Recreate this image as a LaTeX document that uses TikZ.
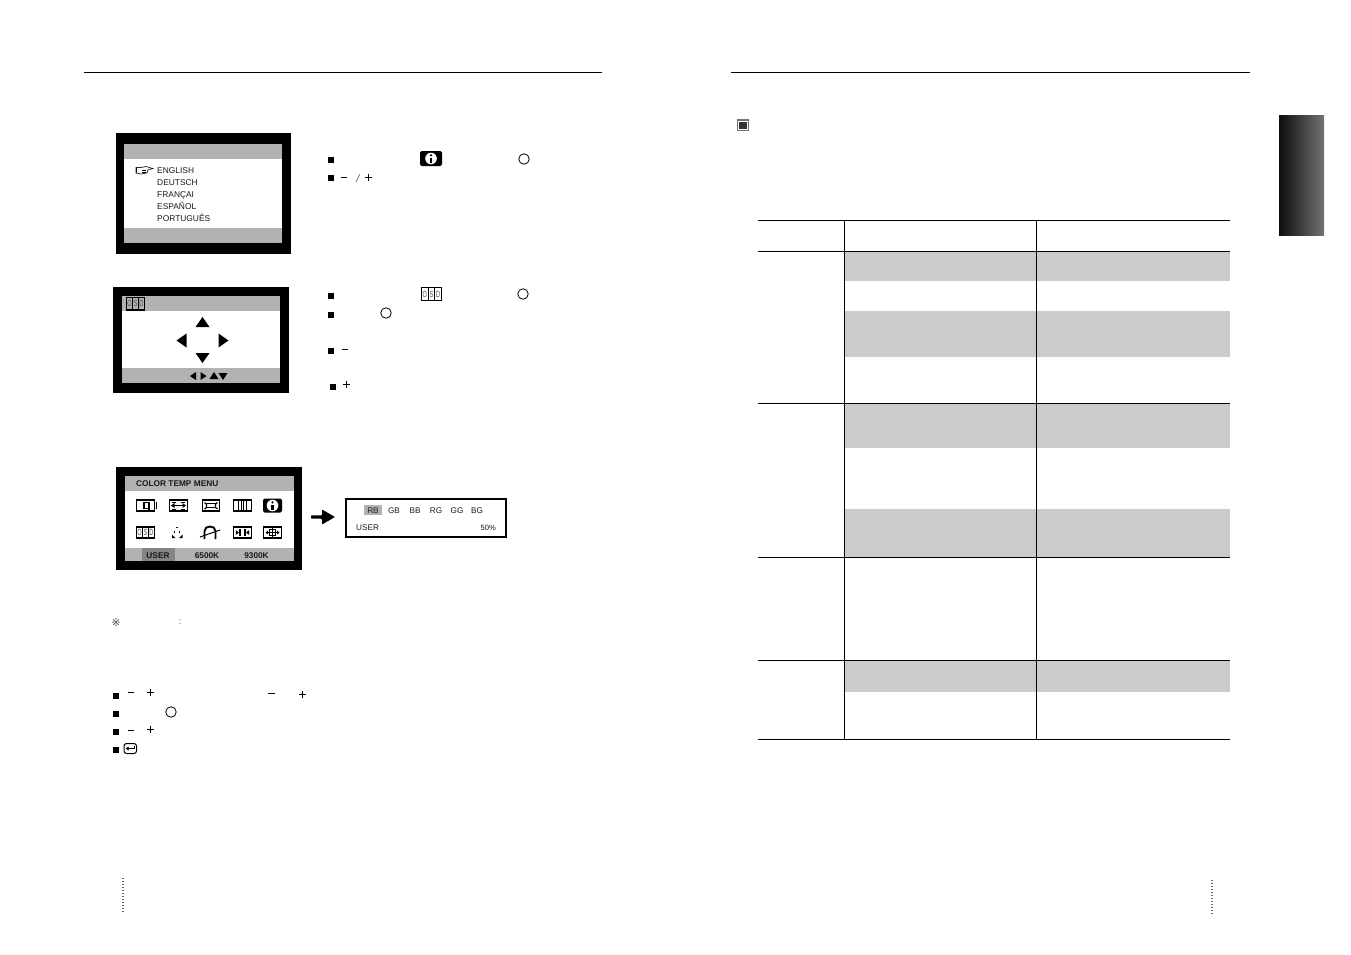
\documentclass[tikz,border=0pt]{standalone}
\usepackage{fontspec}
\setmainfont{Liberation Sans}
\definecolor{bandgray}{HTML}{CBCBCB}
\definecolor{osdgray}{HTML}{B2B2B2}
\definecolor{seldark}{HTML}{858585}
\newcommand{\infoicon}[4]{% cx cy w h
  \fill[black,rounded corners=1.6] (#1-#3/2,#2-#4/2) rectangle (#1+#3/2,#2+#4/2);
  \fill[white] (#1,#2) circle[radius=5.8];
  \fill[black] (#1,#2-3.2) circle[radius=1.2];
  \fill[black] (#1-1.2,#2-1) rectangle (#1+1.2,#2+4);
}
\newcommand{\osdicon}[4]{% x0 y0 x1 y1
  \draw[line width=1.2] (#1,#2) rectangle (#3,#4);
  \draw[line width=.9] ({#1+(#3-#1)/3},#2) -- ({#1+(#3-#1)/3},#4) ({#1+2*(#3-#1)/3},#2) -- ({#1+2*(#3-#1)/3},#4);
  \node[osdtxt] at ({#1+(#3-#1)/6},{(#2+#4)/2}) {O};
  \node[osdtxt] at ({#1+(#3-#1)/2},{(#2+#4)/2}) {S};
  \node[osdtxt] at ({#1+5*(#3-#1)/6},{(#2+#4)/2}) {D};
}
\tikzset{
  x=1pt,y=-1pt,
  rule/.style={line width=1pt,black},
  tablerule/.style={line width=.8pt,black},
  band/.style={fill=bandgray},
  frame/.style={fill=black},
  osdbar/.style={fill=osdgray},
  screentxt/.style={font=\fontsize{8.4}{9}\selectfont,anchor=base west,inner sep=0pt,text=black!90},
  boldtxt/.style={font=\fontsize{8.3}{9}\selectfont\bfseries,inner sep=0pt,text=black!90},
  cfgtxt/.style={font=\fontsize{8.2}{9}\selectfont,inner sep=0pt,text=black!90},
  osdtxt/.style={font=\fontsize{9}{9}\selectfont,inner sep=0pt,text=black!70,xscale=.62},
  bullet/.style={fill=black,minimum size=5.4pt,inner sep=0pt,draw=none,rectangle},
  keycircle/.style={draw=black,line width=.8pt,circle,minimum size=10.5pt,inner sep=0pt},
  keymark/.style={line width=.9pt,black},
  dotline/.style={line width=1.2pt,dash pattern=on 1pt off 2pt,black!60},
  icon/.style={line width=1.1pt,black},
}
\newcommand{\minusat}[2]{\draw[keymark] (#1-3.2,#2) -- (#1+3.2,#2);}
\newcommand{\plusat}[2]{\draw[keymark] (#1-3.5,#2) -- (#1+3.5,#2) (#1,#2-3.5) -- (#1,#2+3.5);}
\newcommand{\tri}[3]{\fill[black] #1 -- #2 -- #3 -- cycle;}
\begin{document}
\begin{tikzpicture}
\useasboundingbox[fill=white] (0,0) rectangle (1351,954);
% header rules
\draw[rule] (84,72) -- (602,72);
\draw[rule] (731,72) -- (1250,72);
% footer dotted
\draw[dotline] (123,878) -- (123,912);
\draw[dotline] (1212,880) -- (1212,914);

% Screen 1
\fill[frame] (116,133) rectangle (291,254);
\fill[white] (124,144) rectangle (282,243);
\fill[osdbar] (124,144) rectangle (282,159);
\fill[osdbar] (124,228) rectangle (282,243);
\node[screentxt] (l1) at (157,173.5) {ENGLISH};
\node[screentxt] (l2) at (157,185.5) {DEUTSCH};
\node[screentxt] (l3) at (157,197.5) {FRANÇAI};
\node[screentxt] (l4) at (157,209.5) {ESPAÑOL};
\node[screentxt] (l5) at (157,221.5) {PORTUGUÊS};
% hand pointer
\draw[line width=.7pt,black!85,fill=white] (136,167.5) -- (141,167.5) -- (146,166.5) -- (153,168.6) -- (148,169.8) -- (147,173) -- (141,174) -- (136,173) -- cycle;
\fill[black] (135.5,167.5) rectangle (137,173);
\draw[line width=.5pt] (142,170) -- (146,170) (142,172) -- (145.5,172);

% Screen 2
\fill[frame] (113,287) rectangle (288.5,393);
\fill[white] (122,296) rectangle (280,383);
\fill[osdbar] (122,296) rectangle (280,311);
\fill[osdbar] (122,368) rectangle (280,383);
\osdicon{126.5}{297.5}{144.5}{310}
\tri{(202.5,317)}{(195.5,327)}{(209.5,327)}
\tri{(176.5,340.5)}{(186.5,333.5)}{(186.5,347.5)}
\tri{(228.5,340.5)}{(218.5,333.5)}{(218.5,347.5)}
\tri{(202.5,363)}{(195.5,353)}{(209.5,353)}
\tri{(190,376)}{(196,372)}{(196,380)}
\tri{(206.5,376)}{(200.5,372)}{(200.5,380)}
\tri{(214,372)}{(209.5,379)}{(218.5,379)}
\tri{(223,380)}{(218.5,373)}{(227.5,373)}

% Screen 3
\fill[frame] (115.5,467) rectangle (302,570);
\fill[white] (125,476) rectangle (294,561);
\fill[osdbar] (125,476) rectangle (294,491);
\fill[osdbar] (125,548) rectangle (294,561);
\fill[seldark] (142,548) rectangle (175,561);
\node[boldtxt,anchor=west] (ctm) at (136,483.5) {COLOR TEMP MENU};
\node[boldtxt] (tu) at (158,555.5) {USER};
\node[boldtxt] (t65) at (207,555.5) {6500K};
\node[boldtxt] (t93) at (256.5,555.5) {9300K};
% row 1 icons
\draw[icon] (136.5,500) rectangle (154.5,511);
\fill (155.5,502) rectangle (157.3,509);
\draw[line width=1.4pt] (149,502) -- (149,509.5) (149,502.5) -- (144,502.5) -- (144,508.5) -- (149,508.5);
\draw[icon] (169.5,500) rectangle (187.5,511);
\draw[line width=.9pt] (173,505.5) -- (184,505.5);
\fill (171,505.5) -- (174.5,503) -- (174.5,508) -- cycle;
\fill (186,505.5) -- (182.5,503) -- (182.5,508) -- cycle;
\draw[line width=.9pt] (172,502) -- (176,502) (181,502) -- (185,502) (172,509) -- (176,509) (181,509) -- (185,509);
\draw[icon] (202.5,500) rectangle (219.5,511);
\draw[line width=1.2pt] (204.5,502.5) -- (206.5,504) -- (206.5,507.5) -- (204.5,509) (217.5,502.5) -- (215.5,504) -- (215.5,507.5) -- (217.5,509);
\draw[line width=.9pt] (206.5,503.5) -- (215.5,503.5) (206.5,507.5) -- (215.5,507.5);
\draw[icon] (233.5,500) rectangle (251.5,511);
\foreach \xx in {238.5,241,243.5,246} {\draw[line width=.9pt] (\xx,500) -- (\xx,511);}
\infoicon{272.5}{505.5}{19}{14}
% row 2 icons
\osdicon{136.5}{527}{154.5}{538}
\foreach \a/\b in {177/527.5,174.5/532,179.5/532} {\fill (\a-.8,\b-.8) rectangle (\a+.8,\b+.8);}
\fill (172,538) -- (172,534.5) -- (175.5,538) -- cycle;
\fill (182.5,538) -- (182.5,534.5) -- (179,538) -- cycle;
\draw[line width=1.9pt] (204.5,539) -- (204.5,531) .. controls (204.5,525) and (215.5,525) .. (215.5,531) -- (215.5,539);
\draw[line width=1pt] (200,537) -- (220,530);
\draw[icon] (233.5,527) rectangle (251.5,538);
\draw[line width=1.2pt] (240,529) -- (240,536) (245,529) -- (245,536);
\fill (239,532.5) -- (235.8,530) -- (235.8,535) -- cycle;
\fill (246,532.5) -- (249.2,530) -- (249.2,535) -- cycle;
\draw[icon] (263.5,527) rectangle (281.5,538);
\draw[line width=.8pt] (266,532.5) -- (279,532.5);
\draw[line width=1pt] (269.5,529.5) rectangle (275.5,535.5);
\draw[line width=1pt] (272.5,527.5) -- (272.5,537.5);
\fill (265.5,532.5) -- (268,530.5) -- (268,534.5) -- cycle;
\fill (279.5,532.5) -- (277,530.5) -- (277,534.5) -- cycle;

% connector arrow
\coordinate (arrowtail) at (311,517);
\node[draw=black,line width=2pt,minimum width=160pt,minimum height=38pt,inner sep=0pt] (userbox) at (425.8,518) {};
\fill[black,rounded corners=.8] (arrowtail) ++(0,-1.7) -- (322,515.3) -- (322,509.5) -- (335,517) -- (322,524.5) -- (322,518.7) -- (311,518.7) -- cycle;
\fill[osdgray] (364,505) rectangle (382,514.5);
\foreach \nm/\xx/\lab in {a/373/RB,b/394/GB,c/415/BB,d/436/RG,e/457/GG,f/477/BG} {\node[cfgtxt] (cfg\nm) at (\xx,510.5) {\lab};}
\node[cfgtxt,anchor=west] (uu) at (356,527.5) {USER};
\node[cfgtxt,anchor=east,font=\fontsize{7.6}{9}\selectfont] (pc) at (496,528) {50\%};

% key marks
\foreach \n/\xx/\yy in {a/331/160,b/331/178,c/331/296,d/331/315,e/331/351,f/333/387,g/116/696,h/116/714,i/116/732,j/116/750}
  {\node[bullet] (bul\n) at (\xx,\yy) {};}
\infoicon{431}{158.5}{22}{15}
\node[keycircle] (k1) at (524,159) {};
\minusat{344}{177}
\draw[line width=.5pt,black!70] (356,182) -- (360,174);
\plusat{368}{177}
\osdicon{421.5}{287.5}{441.5}{300.5}
\node[keycircle] (k2) at (523,294) {};
\node[keycircle] (k3) at (386,313) {};
\minusat{345}{349.5}
\plusat{346.5}{384}
\node[font=\fontsize{11}{12}\selectfont,inner sep=0pt,text=black!70] (note) at (116,622.5) {\fontspec{DejaVu Sans}※};
\node[font=\fontsize{9}{9}\selectfont,inner sep=0pt,text=black!70] (colon) at (180,622) {:};
\minusat{131}{692.5}
\plusat{150}{692}
\minusat{271.5}{693.5}
\plusat{302.5}{694}
\node[keycircle] (k4) at (171,712) {};
\minusat{131}{730}
\plusat{150}{729.5}
\draw[line width=1pt,rounded corners=2.5] (124,743.5) rectangle (136.5,753.5);
\draw[line width=.8pt] (134,745.5) -- (134,748.5) -- (127,748.5);
\fill (125.8,748.5) -- (128.5,746.5) -- (128.5,750.5) -- cycle;

% right page marker
\fill[black!55] (736.5,119) rectangle (749,131);
\fill[white] (738,120.5) rectangle (747.5,129.5);
\fill[black!80] (739.3,121.8) rectangle (746.8,128.6);

% side tab
\shade[left color=black!95,right color=black!55] (1279,115) rectangle (1324,235.8);

% table
\foreach \ya/\yb in {251/281,311/357,403/448,509/557,660/692} {
  \fill[band] (845,\ya) rectangle (1230,\yb);
}
\foreach \yy in {220,251,403,557,660,739.5} {\draw[tablerule] (758,\yy) -- (1230,\yy);}
\draw[tablerule] (844.5,220) -- (844.5,739.5);
\draw[tablerule] (1036.5,220) -- (1036.5,739.5);
\end{tikzpicture}
\end{document}
